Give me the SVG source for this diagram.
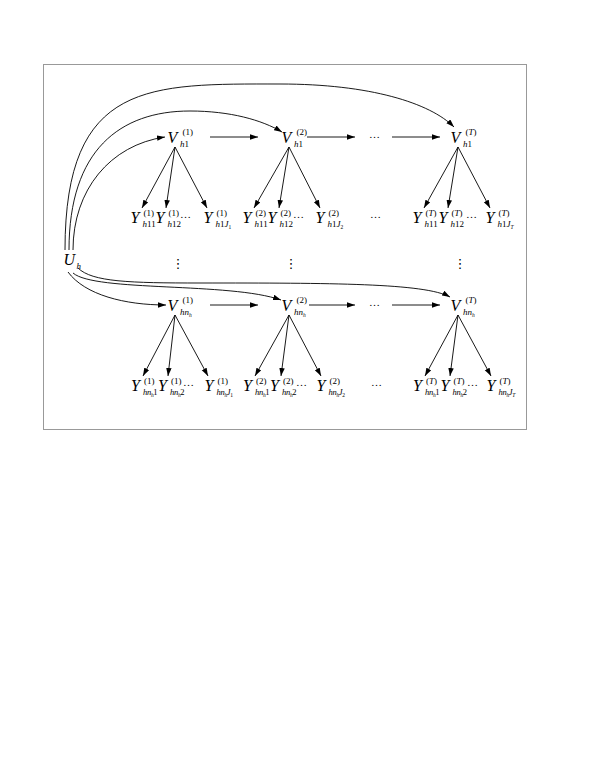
<svg xmlns="http://www.w3.org/2000/svg" width="599" height="776" viewBox="0 0 599 776">
<style>
text{font-family:"Liberation Serif","Times New Roman",serif;fill:#000}
.b{font-style:italic;font-size:16px}
.s{font-style:italic;font-size:9px}
.l{font-size:8.5px;letter-spacing:-0.3px}
.u{font-style:normal}
.ss{font-size:5.5px}
.d{font-size:11px}
.vd{font-family:"DejaVu Sans",sans-serif;font-size:13px;text-anchor:middle}
#edges path,#edges line{fill:none;stroke:#000;stroke-width:0.9;marker-end:url(#ah)}
</style>
<defs>
<marker id="ah" markerUnits="userSpaceOnUse" markerWidth="8" markerHeight="6" refX="8" refY="2.75" orient="auto">
<path d="M0,0 L8,2.75 L0,5.5 z" fill="#000"/>
</marker>
</defs>
<rect x="43.5" y="64.5" width="483" height="365" fill="#fff" stroke="#999" stroke-width="1"/>

<g id="edges">
<path d="M65,250 C65,80 150,84 280,84 C370,84 430,103 454,127"/>
<path d="M69,250 C69,150 120,111 190,111 C230,111 262,120 282,132"/>
<path d="M73,250 C73,190 110,145 165,137"/>
<path d="M68,272 C85,295 125,305 166,305"/>
<path d="M73,273 C95,292 230,282 281,300"/>
<path d="M78,268 C92,282 130,283 200,283 C330,283 425,283 450,297"/>
<line x1="210" y1="137" x2="258" y2="137"/>
<line x1="307" y1="137" x2="355" y2="137"/>
<line x1="392" y1="137" x2="440" y2="137"/>
<line x1="210" y1="305" x2="258" y2="305"/>
<line x1="309" y1="305" x2="355" y2="305"/>
<line x1="392" y1="305" x2="440" y2="305"/>
<line x1="175" y1="147" x2="142" y2="208"/>
<line x1="175" y1="147" x2="166" y2="208"/>
<line x1="175" y1="147" x2="207" y2="208"/>
<line x1="289" y1="147" x2="254" y2="208"/>
<line x1="289" y1="147" x2="279" y2="208"/>
<line x1="289" y1="147" x2="320" y2="208"/>
<line x1="458" y1="147" x2="424" y2="208"/>
<line x1="458" y1="147" x2="448" y2="208"/>
<line x1="458" y1="147" x2="490" y2="208"/>
<line x1="175" y1="315" x2="143" y2="376"/>
<line x1="175" y1="315" x2="168" y2="376"/>
<line x1="175" y1="315" x2="208" y2="376"/>
<line x1="289" y1="315" x2="255" y2="376"/>
<line x1="289" y1="315" x2="281" y2="376"/>
<line x1="289" y1="315" x2="321" y2="376"/>
<line x1="458" y1="315" x2="425" y2="376"/>
<line x1="458" y1="315" x2="450" y2="376"/>
<line x1="458" y1="315" x2="491" y2="376"/>
</g>

<g id="U">
<text class="b" x="63.5" y="265">U</text>
<text class="s" x="76.5" y="269">h</text>
</g>

<g id="vdots">
<text class="vd" x="178" y="268">⋮</text>
<text class="vd" x="291" y="268">⋮</text>
<text class="vd" x="460" y="268">⋮</text>
</g>

<g id="hdots">
<text class="d" x="369" y="138">…</text>
<text class="d" x="369" y="306">…</text>
<text class="d" x="370" y="218">…</text>
<text class="d" x="371" y="386">…</text>
</g>

<!-- Upper V row -->
<g id="V1_h1">
<text class="b" x="167.5" y="143">V</text>
<text class="s" x="182.5" y="135"><tspan class="u">(1)</tspan></text>
<text class="s" x="180" y="147">h<tspan class="u">1</tspan></text>
</g>
<g id="V2_h1">
<text class="b" x="281.5" y="143">V</text>
<text class="s" x="296.5" y="135"><tspan class="u">(2)</tspan></text>
<text class="s" x="294" y="147">h<tspan class="u">1</tspan></text>
</g>
<g id="VT_h1">
<text class="b" x="450.5" y="143">V</text>
<text class="s" x="465.5" y="135"><tspan class="u">(</tspan>T<tspan class="u">)</tspan></text>
<text class="s" x="463" y="147">h<tspan class="u">1</tspan></text>
</g>

<!-- Upper Y row -->
<g id="Y1_h11">
<text class="b" x="130.5" y="223">Y</text>
<text class="s" x="143.5" y="216"><tspan class="u">(1)</tspan></text>
<text class="s" x="142.5" y="227">h<tspan class="u">11</tspan></text>
</g>
<g id="Y1_h12">
<text class="b" x="155.5" y="223">Y</text>
<text class="s" x="168.5" y="216"><tspan class="u">(1)</tspan></text>
<text class="s" x="167.5" y="227">h<tspan class="u">12</tspan></text>
</g>
<text class="d" x="180" y="218">…</text>
<g id="Y1_h1J1">
<text class="b" x="203.5" y="223">Y</text>
<text class="s" x="216.5" y="216"><tspan class="u">(1)</tspan></text>
<text class="s" x="215.5" y="227">h<tspan class="u">1</tspan>J<tspan class="ss u" dy="2">1</tspan></text>
</g>
<g id="Y2_h11">
<text class="b" x="242.5" y="223">Y</text>
<text class="s" x="255.5" y="216"><tspan class="u">(2)</tspan></text>
<text class="s" x="254.5" y="227">h<tspan class="u">11</tspan></text>
</g>
<g id="Y2_h12">
<text class="b" x="267.5" y="223">Y</text>
<text class="s" x="280.5" y="216"><tspan class="u">(2)</tspan></text>
<text class="s" x="279.5" y="227">h<tspan class="u">12</tspan></text>
</g>
<text class="d" x="293" y="218">…</text>
<g id="Y2_h1J2">
<text class="b" x="315.5" y="223">Y</text>
<text class="s" x="328.5" y="216"><tspan class="u">(2)</tspan></text>
<text class="s" x="327.5" y="227">h<tspan class="u">1</tspan>J<tspan class="ss u" dy="2">2</tspan></text>
</g>
<g id="YT_h11">
<text class="b" x="412.5" y="223">Y</text>
<text class="s" x="425.5" y="216"><tspan class="u">(</tspan>T<tspan class="u">)</tspan></text>
<text class="s" x="424.5" y="227">h<tspan class="u">11</tspan></text>
</g>
<g id="YT_h12">
<text class="b" x="438.5" y="223">Y</text>
<text class="s" x="451.5" y="216"><tspan class="u">(</tspan>T<tspan class="u">)</tspan></text>
<text class="s" x="450.5" y="227">h<tspan class="u">12</tspan></text>
</g>
<text class="d" x="466" y="218">…</text>
<g id="YT_h1JT">
<text class="b" x="485.5" y="223">Y</text>
<text class="s" x="498.5" y="216"><tspan class="u">(</tspan>T<tspan class="u">)</tspan></text>
<text class="s" x="497.5" y="227">h<tspan class="u">1</tspan>J<tspan class="ss" dy="2">T</tspan></text>
</g>

<!-- Lower V row -->
<g id="V1_hn">
<text class="b" x="167.5" y="311">V</text>
<text class="s" x="182.5" y="303"><tspan class="u">(1)</tspan></text>
<text class="s" x="180" y="315">hn<tspan class="ss" dy="2">h</tspan></text>
</g>
<g id="V2_hn">
<text class="b" x="281.5" y="311">V</text>
<text class="s" x="296.5" y="303"><tspan class="u">(2)</tspan></text>
<text class="s" x="294" y="315">hn<tspan class="ss" dy="2">h</tspan></text>
</g>
<g id="VT_hn">
<text class="b" x="450.5" y="311">V</text>
<text class="s" x="465.5" y="303"><tspan class="u">(</tspan>T<tspan class="u">)</tspan></text>
<text class="s" x="463" y="315">hn<tspan class="ss" dy="2">h</tspan></text>
</g>

<!-- Lower Y row -->
<g id="Y1_hn1">
<text class="b" x="131" y="391">Y</text>
<text class="s" x="144" y="384"><tspan class="u">(1)</tspan></text>
<text class="s l" x="143" y="395">hn<tspan class="ss" dy="2">h</tspan><tspan class="u" dy="-2">1</tspan></text>
</g>
<g id="Y1_hn2">
<text class="b" x="158" y="391">Y</text>
<text class="s" x="171" y="384"><tspan class="u">(1)</tspan></text>
<text class="s l" x="170" y="395">hn<tspan class="ss" dy="2">h</tspan><tspan class="u" dy="-2">2</tspan></text>
</g>
<text class="d" x="183" y="386">…</text>
<g id="Y1_hnJ1">
<text class="b" x="204.5" y="391">Y</text>
<text class="s" x="217.5" y="384"><tspan class="u">(1)</tspan></text>
<text class="s l" x="216.5" y="395">hn<tspan class="ss" dy="2">h</tspan><tspan dy="-2">J</tspan><tspan class="ss u" dy="2">1</tspan></text>
</g>
<g id="Y2_hn1">
<text class="b" x="243" y="391">Y</text>
<text class="s" x="256" y="384"><tspan class="u">(2)</tspan></text>
<text class="s l" x="255" y="395">hn<tspan class="ss" dy="2">h</tspan><tspan class="u" dy="-2">1</tspan></text>
</g>
<g id="Y2_hn2">
<text class="b" x="270" y="391">Y</text>
<text class="s" x="283" y="384"><tspan class="u">(2)</tspan></text>
<text class="s l" x="282" y="395">hn<tspan class="ss" dy="2">h</tspan><tspan class="u" dy="-2">2</tspan></text>
</g>
<text class="d" x="296" y="386">…</text>
<g id="Y2_hnJ2">
<text class="b" x="316.5" y="391">Y</text>
<text class="s" x="329.5" y="384"><tspan class="u">(2)</tspan></text>
<text class="s l" x="328.5" y="395">hn<tspan class="ss" dy="2">h</tspan><tspan dy="-2">J</tspan><tspan class="ss u" dy="2">2</tspan></text>
</g>
<g id="YT_hn1">
<text class="b" x="413" y="391">Y</text>
<text class="s" x="426" y="384"><tspan class="u">(</tspan>T<tspan class="u">)</tspan></text>
<text class="s l" x="425" y="395">hn<tspan class="ss" dy="2">h</tspan><tspan class="u" dy="-2">1</tspan></text>
</g>
<g id="YT_hn2">
<text class="b" x="440.5" y="391">Y</text>
<text class="s" x="453.5" y="384"><tspan class="u">(</tspan>T<tspan class="u">)</tspan></text>
<text class="s l" x="452.5" y="395">hn<tspan class="ss" dy="2">h</tspan><tspan class="u" dy="-2">2</tspan></text>
</g>
<text class="d" x="467" y="386">…</text>
<g id="YT_hnJT">
<text class="b" x="486.5" y="391">Y</text>
<text class="s" x="499.5" y="384"><tspan class="u">(</tspan>T<tspan class="u">)</tspan></text>
<text class="s l" x="498.5" y="395">hn<tspan class="ss" dy="2">h</tspan><tspan dy="-2">J</tspan><tspan class="ss" dy="2">T</tspan></text>
</g>
</svg>
